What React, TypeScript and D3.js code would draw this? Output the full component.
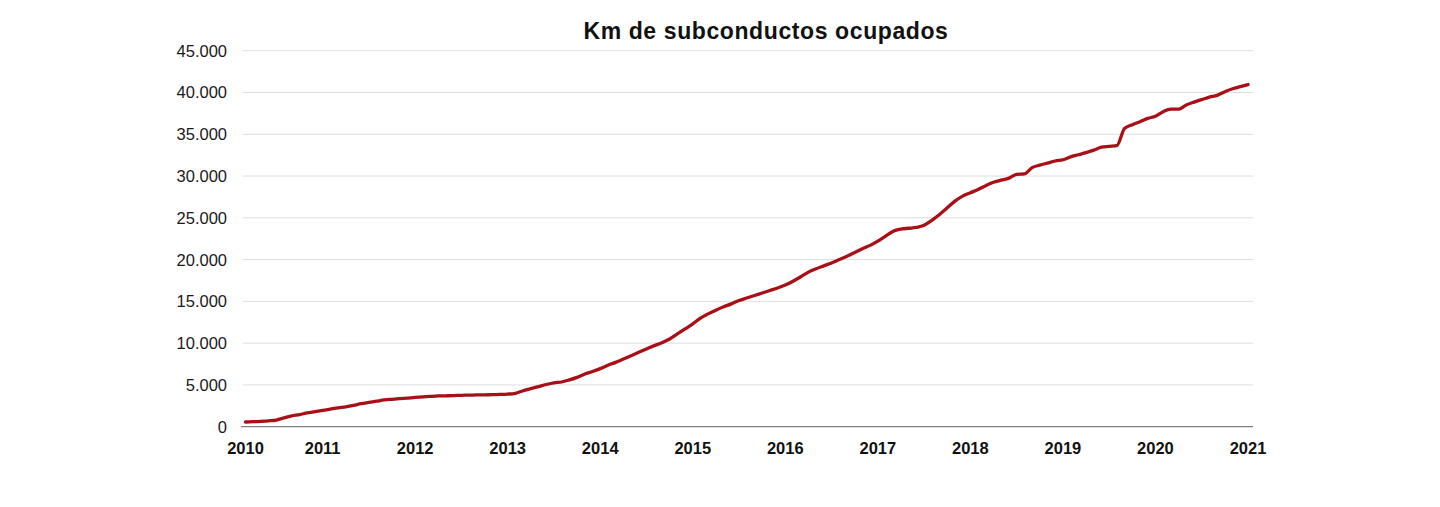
import React from "react";
import * as d3 from "d3";

const TITLE = "Km de subconductos ocupados";
const YEAR_LABELS = ["2010", "2011", "2012", "2013", "2014", "2015", "2016", "2017", "2018", "2019", "2020", "2021"];
// month index (from Mar 2010) at which each year label sits
const YEAR_LABEL_INDEX = [0, 10, 22, 34, 46, 58, 70, 82, 94, 106, 118, 130];
const Y_TICKS = [0, 5000, 10000, 15000, 20000, 25000, 30000, 35000, 40000, 45000];

// Monthly km, Mar 2010 .. Jan 2021
const KM = [
  560, 600, 640, 700, 800, 1050, 1300, 1450, 1650, 1800,
  1950, 2100, 2250, 2380, 2550, 2750, 2900, 3050, 3200, 3280, 3350, 3420,
  3500, 3570, 3630, 3680, 3700, 3730, 3760, 3780, 3800, 3810, 3840, 3860,
  3900, 4000, 4300, 4550, 4800, 5050, 5250, 5350, 5600, 5900, 6300, 6600,
  6950, 7350, 7700, 8100, 8500, 8900, 9300, 9700, 10050, 10500, 11100, 11700,
  12300, 13000, 13500, 13950, 14350, 14700, 15100, 15400, 15700, 16000, 16300, 16600,
  16950, 17400, 17950, 18500, 18900, 19250, 19600, 20000, 20400, 20850, 21300, 21700,
  22200, 22800, 23400, 23650, 23750, 23850, 24100, 24700, 25400, 26200, 27000, 27600,
  28000, 28400, 28850, 29250, 29500, 29750, 30200, 30250, 31000, 31300, 31550, 31800,
  31950, 32300, 32550, 32800, 33100, 33450, 33550, 33650, 35700, 36150, 36500, 36900,
  37150, 37700, 38000, 38000, 38500, 38850, 39150, 39450, 39650, 40100, 40450, 40700,
  40950,
];

const fmt = (v: number) => (v === 0 ? "0" : d3.format(",")(v).replace(/,/g, "."));

export default function App() {
  const W = 1440;
  const H = 507;
  const x = d3.scaleLinear().domain([0, KM.length - 1]).range([245.5, 1248]);
  const y = d3.scaleLinear().domain([0, 45000]).range([426.7, 50.7]);
  const line = d3
    .line<number>()
    .x((_, i) => x(i))
    .y((d) => y(d))
    .curve(d3.curveMonotoneX);

  return (
    <svg
      width={W}
      height={H}
      style={{ position: "absolute", left: 0, top: 0, background: "#ffffff" }}
      fontFamily="'Liberation Sans', Arial, sans-serif"
    >
      <text x={766} y={39} textAnchor="middle" fontSize={23} letterSpacing={0.6} fontWeight="bold" fill="#111">
        {TITLE}
      </text>
      {Y_TICKS.map((t) => (
        <g key={t}>
          {t > 0 && (
            <line x1={243} x2={1253} y1={y(t)} y2={y(t)} stroke="#dedede" strokeWidth={1} />
          )}
          <text x={227} y={y(t) + 6} textAnchor="end" fontSize={16.5} fill="#1a1a1a">
            {fmt(t)}
          </text>
        </g>
      ))}
      <line x1={241} x2={1253} y1={y(0)} y2={y(0)} stroke="#808080" strokeWidth={1.3} />
      {YEAR_LABELS.map((lab, k) => (
        <text
          key={lab}
          x={x(YEAR_LABEL_INDEX[k])}
          y={454}
          textAnchor="middle"
          fontSize={16.5}
          fontWeight="bold"
          fill="#111"
        >
          {lab}
        </text>
      ))}
      <path d={line(KM) || ""} fill="none" stroke="#a80f17" strokeWidth={3.3} strokeLinejoin="round" strokeLinecap="round" />
    </svg>
  );
}
